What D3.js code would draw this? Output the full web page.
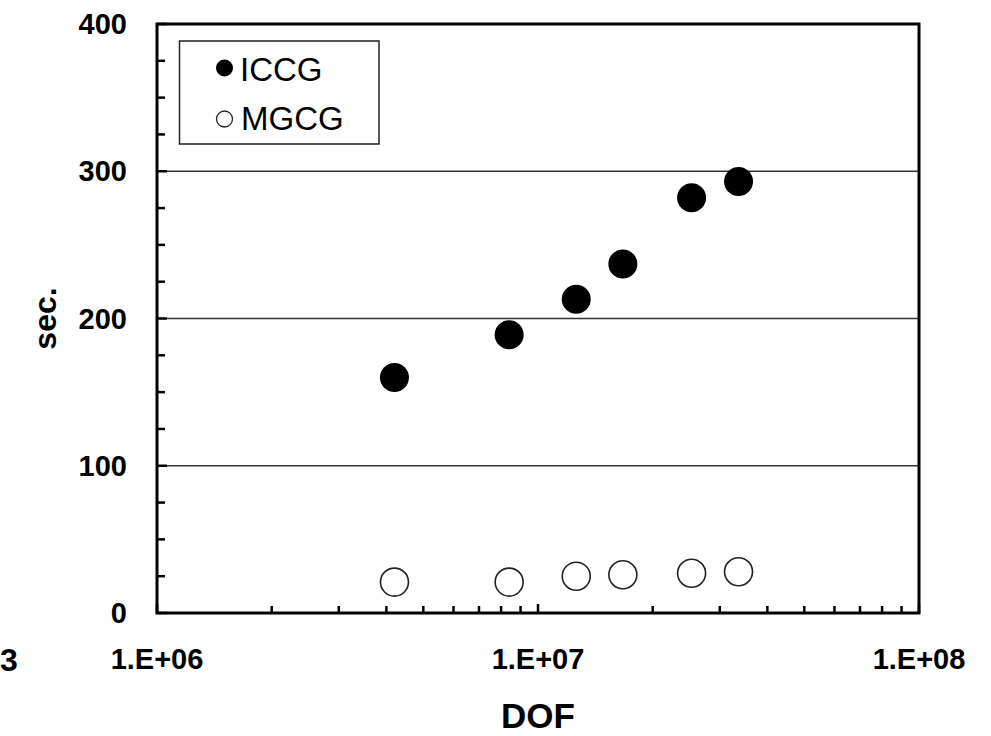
<!DOCTYPE html>
<html>
<head>
<meta charset="utf-8">
<script src="https://cdn.jsdelivr.net/npm/d3@7"></script>
<style>
  html, body { margin: 0; padding: 0; background: #fff; }
  svg { display: block; font-family: "Liberation Sans", Arial, sans-serif; }
</style>
</head>
<body>
<svg id="chart" width="991" height="736"></svg>
<script>
// ---- data ----
const dof = [4.2e6, 8.4e6, 1.26e7, 1.67e7, 2.53e7, 3.36e7];
const iccg = [160, 189, 213, 237, 282, 293];
const mgcg = [21, 21, 25, 26, 27, 28];
const seriesNames = ["ICCG", "MGCG"];
const yTicks = [0, 100, 200, 300, 400];
const xTicks = [1e6, 1e7, 1e8];
const xTickLabels = ["1.E+06", "1.E+07", "1.E+08"];

const svg = d3.select("#chart");
const L = 157, R = 919, T = 24, B = 613;

const x = d3.scaleLog().domain([1e6, 1e8]).range([L, R]);
const y = d3.scaleLinear().domain([0, 400]).range([B, T]);

// gridlines
svg.append("g").selectAll("line").data(yTicks.filter(d => d > 0 && d < 400)).join("line")
  .attr("x1", L).attr("x2", R).attr("y1", d => y(d)).attr("y2", d => y(d))
  .attr("stroke", "#333").attr("stroke-width", 1.5);

// minor y ticks
const yMinor = d3.range(0, 401, 25).filter(d => d % 100 !== 0);
svg.append("g").selectAll("line").data(yMinor).join("line")
  .attr("x1", L).attr("x2", L + 8).attr("y1", d => y(d)).attr("y2", d => y(d))
  .attr("stroke", "#000").attr("stroke-width", 2.5);
svg.append("g").selectAll("line").data(yTicks).join("line")
  .attr("x1", L).attr("x2", L + 10).attr("y1", d => y(d)).attr("y2", d => y(d))
  .attr("stroke", "#000").attr("stroke-width", 2.5);

// minor x ticks
const xMinor = [];
[1e6, 1e7].forEach(dec => { for (let k = 2; k <= 9; k++) xMinor.push(dec * k); });
svg.append("g").selectAll("line").data(xMinor).join("line")
  .attr("x1", d => x(d)).attr("x2", d => x(d)).attr("y1", B).attr("y2", B - 7)
  .attr("stroke", "#000").attr("stroke-width", 2.5);
svg.append("g").selectAll("line").data(xTicks).join("line")
  .attr("x1", d => x(d)).attr("x2", d => x(d)).attr("y1", B).attr("y2", B - 9)
  .attr("stroke", "#000").attr("stroke-width", 2.5);

// frame
svg.append("rect").attr("x", L).attr("y", T).attr("width", R - L).attr("height", B - T)
  .attr("fill", "none").attr("stroke", "#000").attr("stroke-width", 3);

// y labels
svg.append("g").selectAll("text").data(yTicks).join("text")
  .attr("x", 127).attr("y", d => y(d)).attr("dy", "0.35em")
  .attr("text-anchor", "end").attr("font-weight", "bold").attr("font-size", 29)
  .text(d => d);

// x labels
svg.append("g").selectAll("text").data(xTicks).join("text")
  .attr("x", d => x(d)).attr("y", 669)
  .attr("text-anchor", "middle").attr("font-weight", "bold").attr("font-size", 29)
  .text((d, i) => xTickLabels[i]);

// stray label at left edge
svg.append("text").attr("x", 0).attr("y", 671).attr("text-anchor", "start")
  .attr("font-weight", "bold").attr("font-size", 32).text("3");

// axis titles
svg.append("text").attr("x", x(1e7)).attr("y", 728).attr("text-anchor", "middle")
  .attr("font-weight", "bold").attr("font-size", 35).text("DOF");
svg.append("text").attr("transform", `translate(56, ${(T + B) / 2}) rotate(-90)`)
  .attr("text-anchor", "middle").attr("font-weight", "bold").attr("font-size", 32).text("sec.");

// points
svg.append("g").selectAll("circle").data(dof).join("circle")
  .attr("cx", d => x(d)).attr("cy", (d, i) => y(iccg[i])).attr("r", 14.5)
  .attr("fill", "#000");
svg.append("g").selectAll("circle").data(dof).join("circle")
  .attr("cx", d => x(d)).attr("cy", (d, i) => y(mgcg[i])).attr("r", 14)
  .attr("fill", "#fff").attr("stroke", "#222").attr("stroke-width", 1.6);

// legend
const lg = svg.append("g");
lg.append("rect").attr("x", 179.5).attr("y", 41).attr("width", 199.5).attr("height", 103)
  .attr("fill", "#fff").attr("stroke", "#222").attr("stroke-width", 1.5);
lg.append("circle").attr("cx", 224.5).attr("cy", 68).attr("r", 8.5).attr("fill", "#000");
lg.append("circle").attr("cx", 224.5).attr("cy", 119).attr("r", 8)
  .attr("fill", "#fff").attr("stroke", "#222").attr("stroke-width", 1.3);
lg.append("text").attr("x", 240).attr("y", 80.5).attr("font-size", 33).text(seriesNames[0]);
lg.append("text").attr("x", 241).attr("y", 130).attr("font-size", 33).text(seriesNames[1]);
</script>
</body>
</html>
